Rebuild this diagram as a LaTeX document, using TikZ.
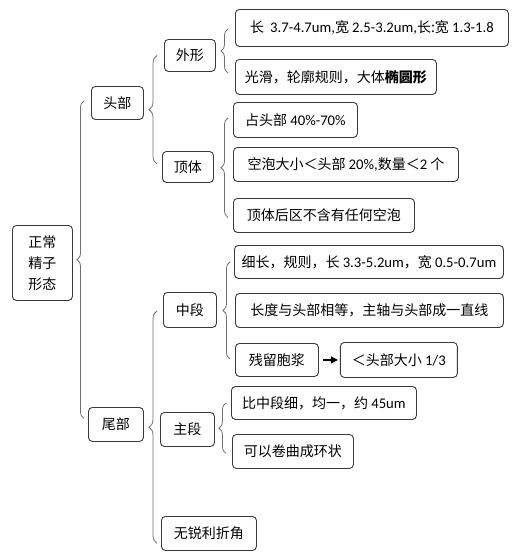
\documentclass[tikz,border=0pt]{standalone}
\usepackage{fontspec}
\setmainfont{Noto Sans CJK SC}
\newfontfamily\lat[Scale=1.05]{Carlito}
\usetikzlibrary{arrows.meta,positioning,decorations.pathreplacing}
\definecolor{ink}{HTML}{3A3A3A}
\definecolor{bracegray}{HTML}{707070}
\tikzset{
  box/.style={draw=ink, rounded corners=4pt, line width=0.9pt, anchor=north west, inner sep=0pt, align=center, font=\fontsize{14}{21}\selectfont},
  brace/.style={decorate, decoration={brace, amplitude=7pt}, draw=bracegray, line width=0.8pt},
  arrow/.style={-{Triangle[length=7pt,width=7pt]}, line width=1.2pt, draw=black}
}

\begin{document}
\begin{tikzpicture}[x=1pt, y=-1pt]
  \useasboundingbox (0,0) rectangle (519,560);

  % root and first level
  \node[box, minimum width=60pt, minimum height=75pt] (root) at (12,225) {正常\\精子\\形态};
  \node[box, minimum width=52pt, minimum height=33pt] (head) at (91,86) {头部};
  \node[box, minimum width=55pt, minimum height=34pt] (tail) at (88,407) {尾部};

  % head
  \node[box, minimum width=51pt, minimum height=32pt] (shape) at (164,39) {外形};
  \node[box, minimum width=51pt, minimum height=31pt] (acro) at (162,151) {顶体};
  \node[box, minimum width=273pt, minimum height=37pt] (size) at (235,9) {长\hspace{3pt} {\lat 3.7-4.7um,}宽 {\lat 2.5-3.2um,}长:宽 {\lat 1.3-1.8}};
  \node[box, minimum width=201pt, minimum height=35pt] (outline) at (235,59) {光滑，轮廓规则，大体\textbf{椭圆形}};
  \node[box, minimum width=124pt, minimum height=35pt] (ratio) at (233,102) {占头部 {\lat 40\%-70\%}};
  \node[box, minimum width=225pt, minimum height=34pt] (vacuole) at (233,147) {空泡大小＜头部 {\lat 20\%,}数量＜{\lat 2} 个};
  \node[box, minimum width=181pt, minimum height=34pt] (postacro) at (233,198) {顶体后区不含有任何空泡};

  % tail
  \node[box, minimum width=53pt, minimum height=35pt] (midpiece) at (163,292) {中段};
  \node[box, minimum width=54pt, minimum height=34pt] (principal) at (160,412) {主段};
  \node[box, minimum width=95pt, minimum height=34pt] (noangle) at (161,516) {无锐利折角};
  \node[box, minimum width=269pt, minimum height=33pt] (midsize) at (234,245) {细长，规则，长 {\lat 3.3-5.2um}，宽 {\lat 0.5-0.7um}};
  \node[box, minimum width=268pt, minimum height=34pt] (midaxis) at (235,293) {长度与头部相等，主轴与头部成一直线};
  \node[box, minimum width=83pt, minimum height=33pt] (droplet) at (235,343) {残留胞浆};
  \node[box, minimum width=117pt, minimum height=35pt, right=21pt of droplet] (dropsize) {＜头部大小 {\lat 1/3}};
  \node[box, minimum width=185pt, minimum height=33pt] (thin) at (231,386) {比中段细，均一，约 {\lat 45um}};
  \node[box, minimum width=121pt, minimum height=34pt] (coil) at (232,434) {可以卷曲成环状};

  % braces
  \coordinate (b0) at (84,0);
  \coordinate (b1) at (157,0);
  \coordinate (b2) at (228,0);
  \coordinate (b3) at (230,0);
  \coordinate (b4) at (226,0);
  \draw[brace] ([yshift=6pt]tail.west -| b0) -- ([yshift=2pt]head.west -| b0);
  \draw[brace, decoration={amplitude=8pt}] ([yshift=3pt]acro.west -| b1) -- (shape.west -| b1);
  \draw[brace] ([yshift=4pt]outline.west -| b2) -- ([yshift=-1pt]size.west -| b2);
  \draw[brace] ([yshift=-2pt]postacro.west -| b2) -- ([yshift=2pt]ratio.west -| b2);
  \draw[brace, decoration={amplitude=8pt}] ([yshift=-10pt]noangle.west -| b1) -- ([yshift=-1pt]midpiece.west -| b1 |- midsize.west);
  \draw[brace] ([yshift=1pt]droplet.west -| b3) -- (midsize.west -| b3);
  \draw[brace] ([yshift=-2pt]coil.west -| b4) -- (thin.west -| b4);

  \draw[arrow, shorten <=4pt, shorten >=2pt] (droplet) -- (dropsize);
\end{tikzpicture}
\end{document}
